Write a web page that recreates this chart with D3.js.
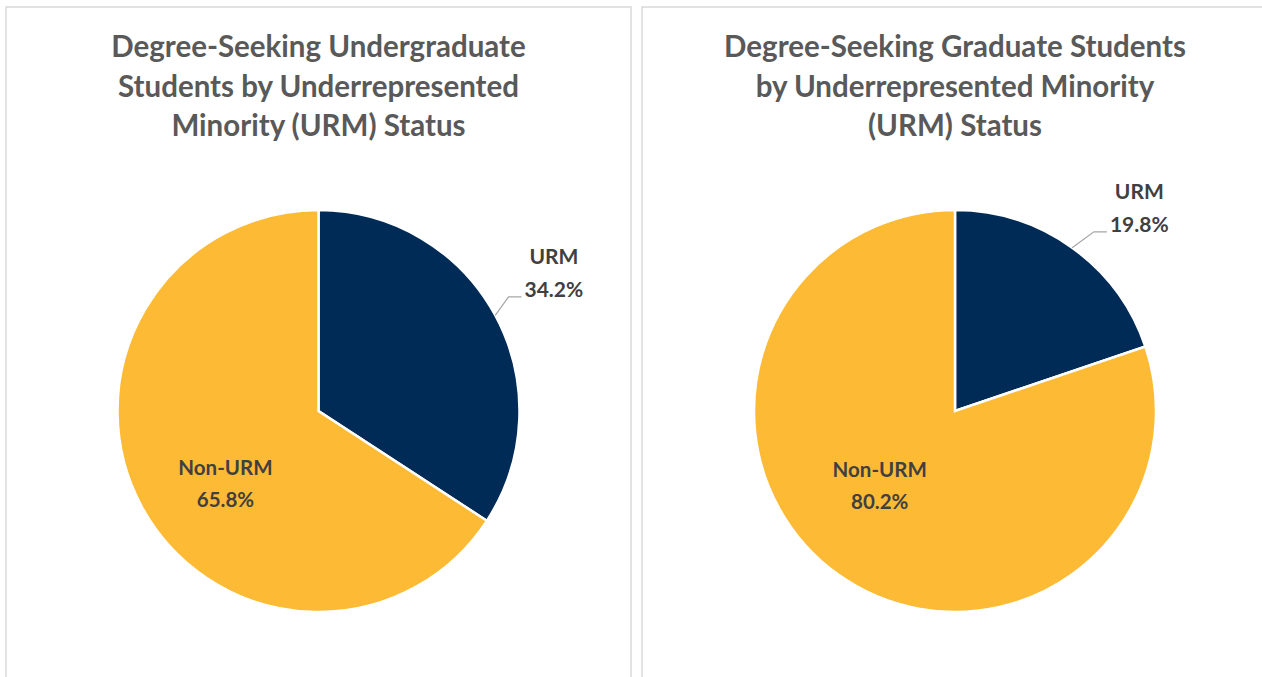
<!DOCTYPE html>
<html>
<head>
<meta charset="utf-8">
<script src="https://cdn.jsdelivr.net/npm/d3@7"></script>
<style>
  body { margin: 0; background: #fff; }
  text { font-family: Lato, "Open Sans", sans-serif; font-weight: bold; }
</style>
</head>
<body>
<div id="chart-area"></div>
<script>
// data
var categories = ["URM", "Non-URM"]
var undergradValues = [34.2, 65.8]
var gradValues = [19.8, 80.2]
var undergradTitle = ["Degree-Seeking Undergraduate", "Students by Underrepresented", "Minority (URM) Status"]
var gradTitle = ["Degree-Seeking Graduate Students", "by Underrepresented Minority", "(URM) Status"]
var colors = ["#002B57", "#FDBB35"]

var width = 1262, height = 677

var svg = d3.select("#chart-area").append("svg")
  .attr("width", width)
  .attr("height", height)

// outNudge / inNudge: small shifts of the data labels, like excel's "best fit"
var panels = [
  { x0: 6, x1: 631, cx: 318.5, title: undergradTitle, values: undergradValues, outNudge: [-5, -7], inNudge: [13, 17] },
  { x0: 642, x1: 1275, cx: 955, title: gradTitle, values: gradValues, outNudge: [25, 20], inNudge: [-5, -22] }
]

var R = 201
var cy = 411

var color = d3.scaleOrdinal().domain(categories).range(colors)

var pie = d3.pie().sort(null).value(function (d) { return d.value })
var arc = d3.arc().innerRadius(0).outerRadius(R)

panels.forEach(function (p) {
  var cx = p.cx

  // panel frame
  svg.append("rect")
    .attr("x", p.x0)
    .attr("y", 7)
    .attr("width", p.x1 - p.x0)
    .attr("height", 700)
    .attr("fill", "none")
    .attr("stroke", "#d9d9d9")
    .attr("stroke-width", 1.5)

  // title
  svg.append("g").selectAll("text")
    .data(p.title)
    .enter()
    .append("text")
    .attr("x", cx)
    .attr("y", function (d, i) { return 57 + i * 39.5 })
    .attr("text-anchor", "middle")
    .attr("font-size", 29.5)
    .attr("fill", "#595959")
    .text(function (d) { return d })

  var data = categories.map(function (c, i) { return { name: c, value: p.values[i] } })
  var arcs = pie(data)

  var g = svg.append("g").attr("transform", "translate(" + cx + "," + cy + ")")

  g.selectAll("path")
    .data(arcs)
    .enter()
    .append("path")
    .attr("d", arc)
    .attr("fill", function (d) { return color(d.data.name) })
    .attr("stroke", "#fff")
    .attr("stroke-width", 2.5)

  arcs.forEach(function (a) {
    var mid = (a.startAngle + a.endAngle) / 2
    var lines = [a.data.name, a.data.value.toFixed(1) + "%"]
    if (a.index == 0) {
      // outside label with leader line
      var lx = Math.sin(mid) * R * 1.36 + p.outNudge[0]
      var ly = -Math.cos(mid) * R * 1.36 + p.outNudge[1]
      var t = g.append("g")
      t.selectAll("text")
        .data(lines)
        .enter()
        .append("text")
        .attr("x", lx)
        .attr("y", function (d, i) { return ly - 10 + i * 33 })
        .attr("text-anchor", "middle")
        .attr("font-size", 21)
        .attr("fill", "#404040")
        .text(function (d) { return d })
      var w = t.selectAll("text").nodes()[1].getComputedTextLength()
      var ex = Math.sin(mid) * R, ey = -Math.cos(mid) * R
      var p2x = lx - w / 2 - 3, p2y = ly + 23
      g.append("polyline")
        .attr("points", [[ex, ey], [p2x - 13, p2y], [p2x, p2y]].map(function (q) { return q.join(",") }).join(" "))
        .attr("fill", "none")
        .attr("stroke", "#a6a6a6")
        .attr("stroke-width", 1.2)
    } else {
      var inner = d3.arc().innerRadius(R * 0.6).outerRadius(R * 0.6)
      var c = inner.centroid(a)
      c = [c[0] + p.inNudge[0], c[1] + p.inNudge[1]]
      g.append("g").selectAll("text")
        .data(lines)
        .enter()
        .append("text")
        .attr("x", c[0])
        .attr("y", function (d, i) { return c[1] - 10 + i * 32 })
        .attr("text-anchor", "middle")
        .attr("font-size", 20.5)
        .attr("fill", "#404040")
        .text(function (d) { return d })
    }
  })
})
</script>
</body>
</html>
